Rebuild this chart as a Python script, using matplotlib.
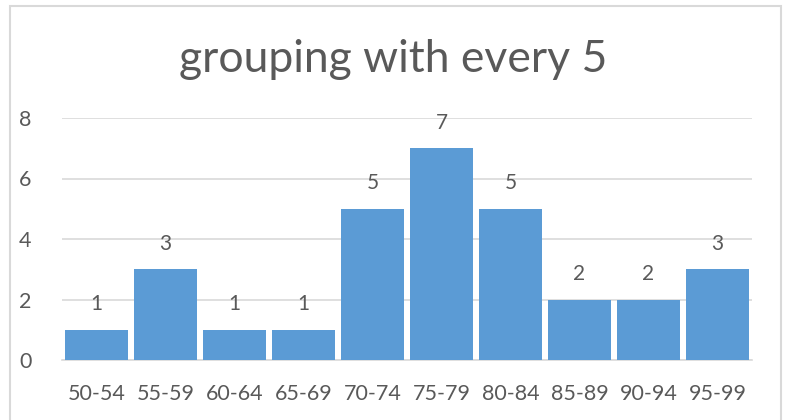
import matplotlib.pyplot as plt
from matplotlib.patches import Rectangle

categories = ["50-54", "55-59", "60-64", "65-69", "70-74",
              "75-79", "80-84", "85-89", "90-94", "95-99"]
counts = [1, 3, 1, 1, 5, 7, 5, 2, 2, 3]
yticks = [0, 2, 4, 6, 8]

plt.rcParams['font.family'] = ['Lato', 'DejaVu Sans']
text_col = '#595959'

fig = plt.figure(figsize=(7.88, 4.2), dpi=100)
W, H = 788, 420

# chart frame (bottom edge runs off the image)
fig.add_artist(Rectangle((10 / W, -0.05), (781 - 10) / W, (420 - 6) / H + 0.05,
                         transform=fig.transFigure, fill=False,
                         edgecolor='#D9D9D9', linewidth=1.5))

ax = fig.add_axes([62 / W, 1 - 360 / H, (752 - 62) / W, (360 - 118) / H])
x = range(len(categories))
bars = ax.bar(x, counts, width=0.91, color='#5B9BD5', zorder=3)
for b, v in zip(bars, counts):
    ax.text(b.get_x() + b.get_width() / 2, v + 0.85, str(v),
            ha='center', va='center', fontsize=15, color=text_col)

ax.set_xlim(-0.5, len(categories) - 0.5)
ax.set_ylim(0, 8)
ax.set_yticks(yticks)
ax.set_xticks(list(x))
ax.set_xticklabels(categories)
ax.tick_params(axis='both', length=0, labelsize=15.5, labelcolor=text_col)
ax.tick_params(axis='y', pad=22)
ax.tick_params(axis='x', pad=17)
ax.grid(axis='y', color='#D9D9D9', linewidth=1.2, zorder=0)
for s in ['top', 'right', 'left']:
    ax.spines[s].set_visible(False)
ax.spines['bottom'].set_color('#D9D9D9')
ax.spines['bottom'].set_linewidth(1.2)

fig.text(393 / W, 1 - 60 / H, "grouping with every 5", ha='center', va='center',
         fontsize=32, color=text_col)

fig.savefig('out.png', dpi=100)
